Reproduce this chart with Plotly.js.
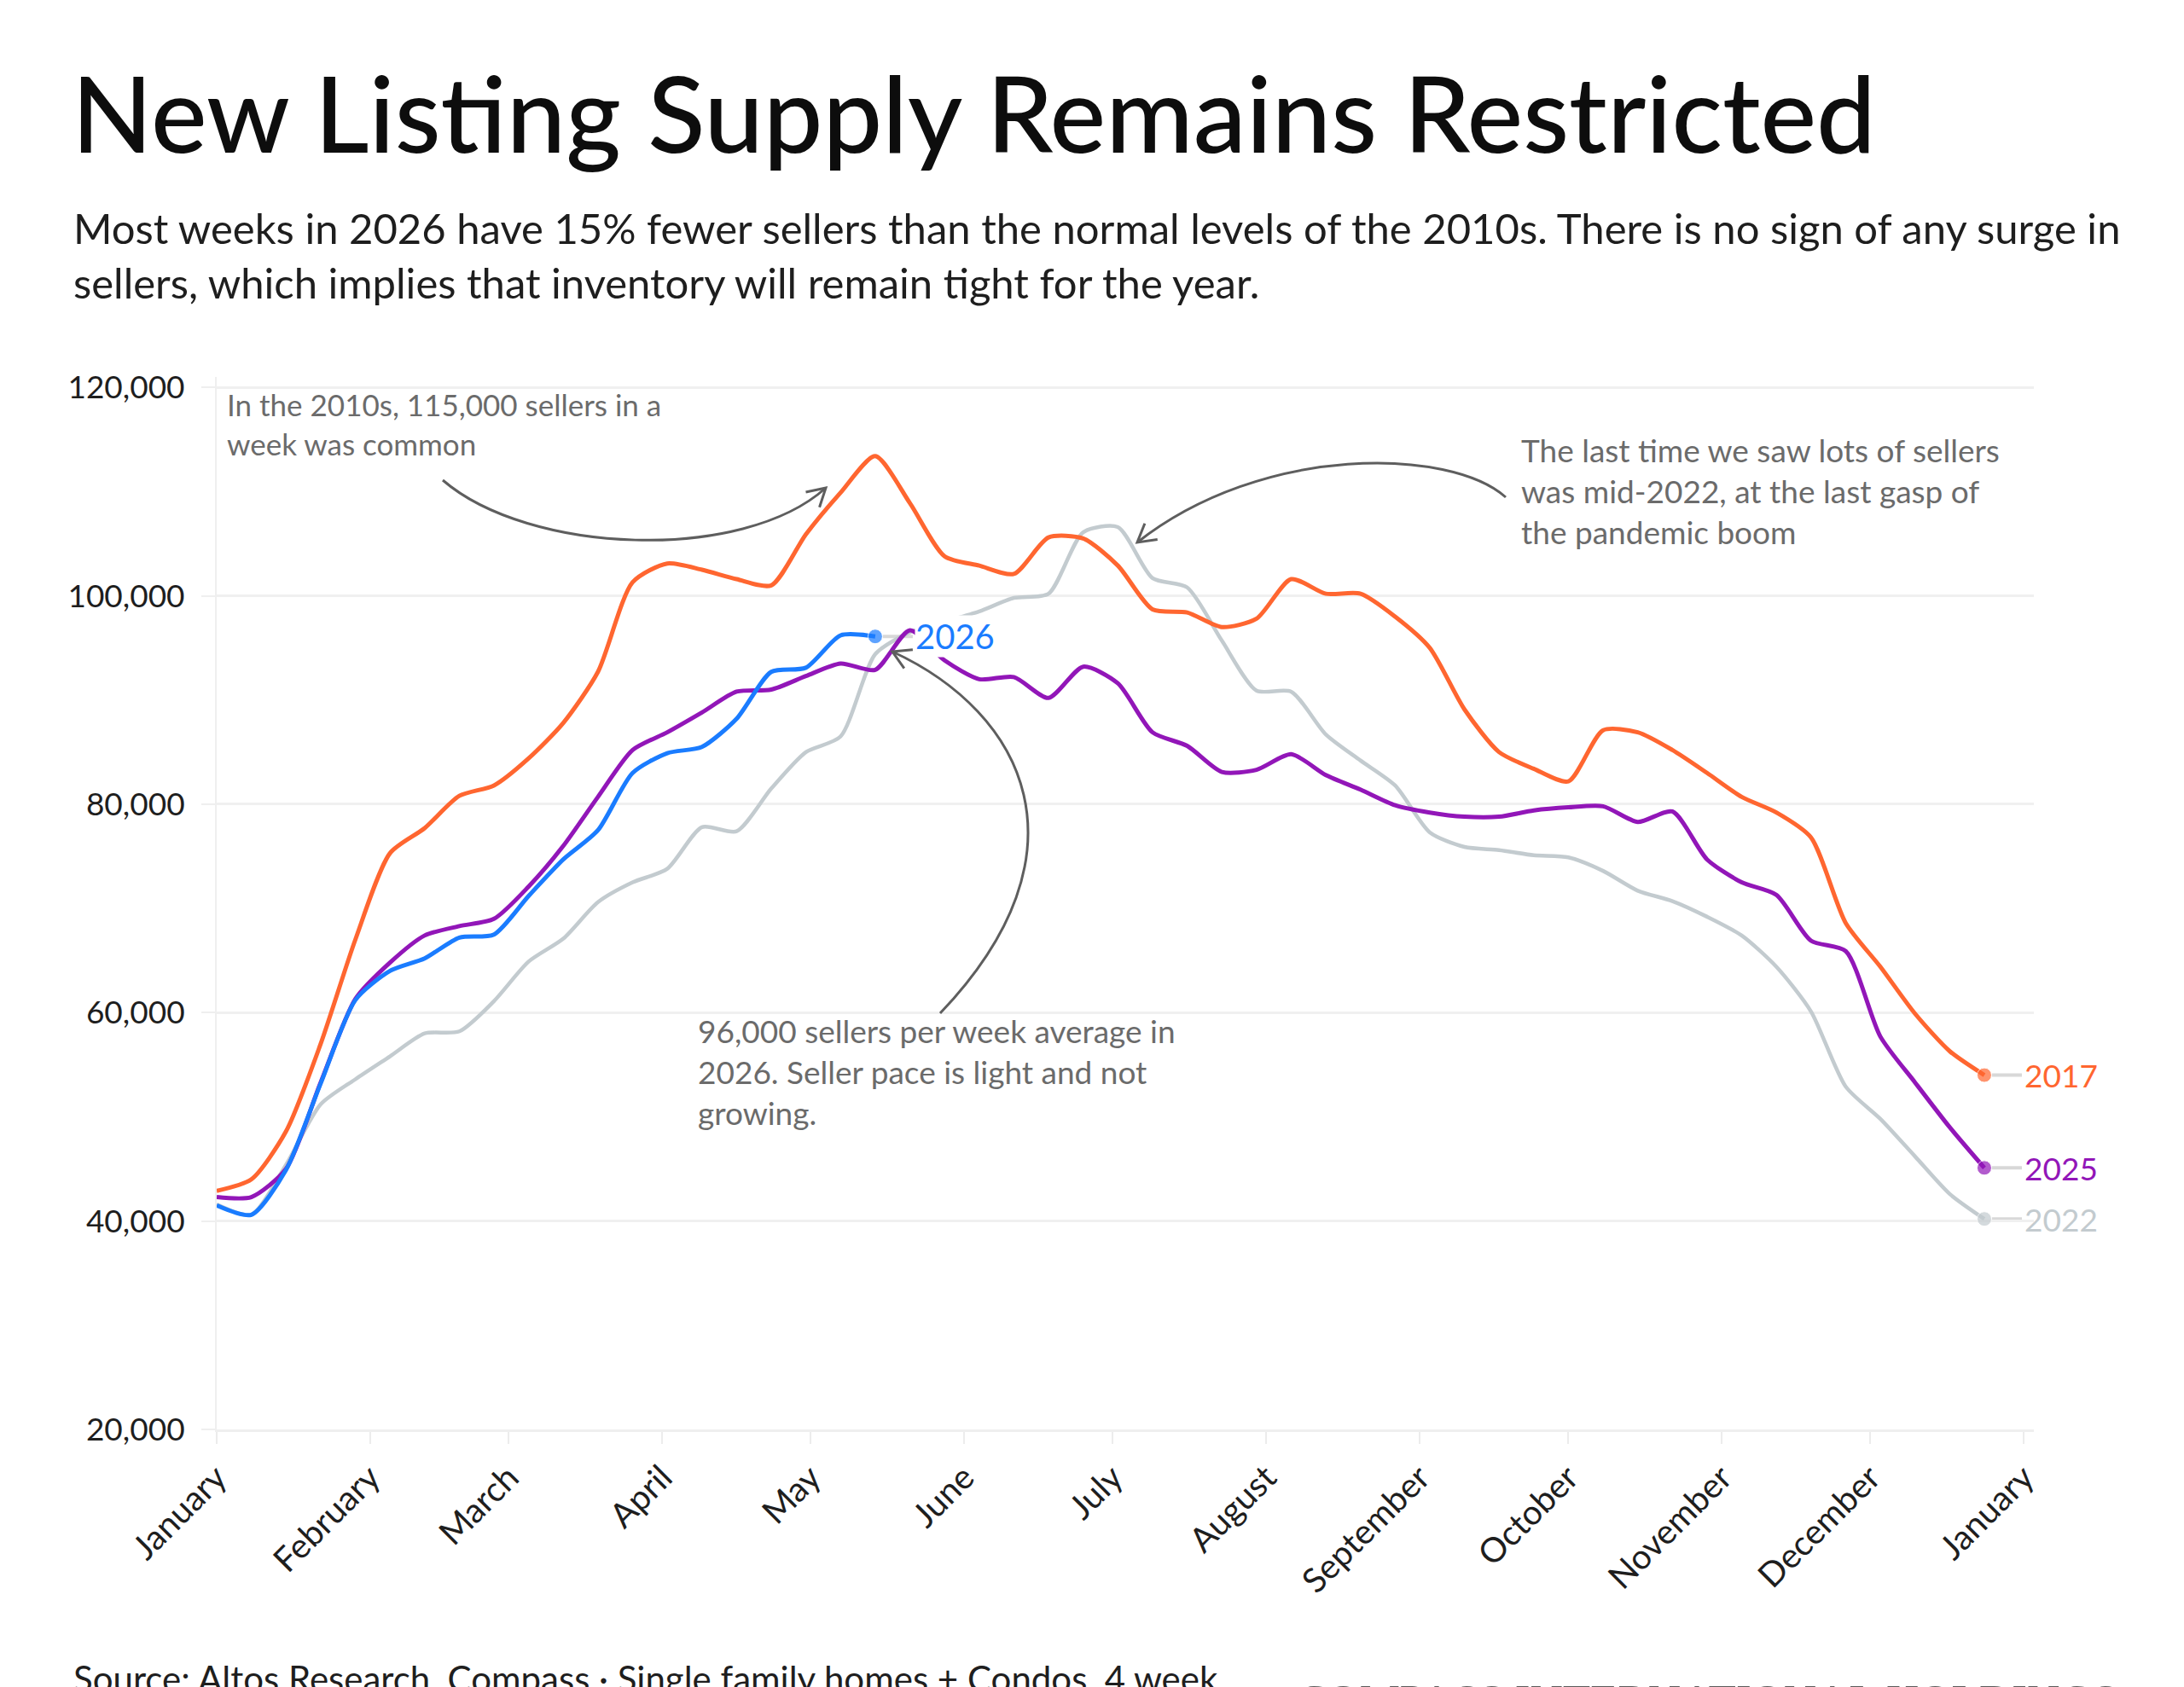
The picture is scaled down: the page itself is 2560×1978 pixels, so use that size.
<!DOCTYPE html>
<html>
<head>
<meta charset="utf-8">
<script src="https://cdn.plot.ly/plotly-3.0.1.min.js"></script>
<style>
html,body{margin:0;padding:0;background:#fff;}
#chart{width:2560px;height:1978px;}
</style>
</head>
<body>
<div id="chart"></div>
<script>
// ---------- DATA ----------
const weeks = [
  '2026-01-01','2026-01-08','2026-01-15','2026-01-22','2026-01-29','2026-02-05','2026-02-12','2026-02-19','2026-02-26',
  '2026-03-05','2026-03-12','2026-03-19','2026-03-26','2026-04-02','2026-04-09','2026-04-16','2026-04-23','2026-04-30',
  '2026-05-07','2026-05-14','2026-05-21','2026-05-28','2026-06-04','2026-06-11','2026-06-18','2026-06-25','2026-07-02',
  '2026-07-09','2026-07-16','2026-07-23','2026-07-30','2026-08-06','2026-08-13','2026-08-20','2026-08-27','2026-09-03',
  '2026-09-10','2026-09-17','2026-09-24','2026-10-01','2026-10-08','2026-10-15','2026-10-22','2026-10-29','2026-11-05',
  '2026-11-12','2026-11-19','2026-11-26','2026-12-03','2026-12-10','2026-12-17','2026-12-24'
];

const sellers2017 = [
  42900, 44000, 48600, 57000, 67000, 75300, 77700, 80800, 81800, 84400, 87800, 92700, 101300,
  103100, 102500, 101600, 101000, 105900, 109900, 113400, 108900, 103800, 102900, 102100, 105600, 105500,
  102900, 98700, 98400, 97000, 97800, 101600, 100200, 100200, 98000, 95000, 89100, 85000, 83400,
  82200, 87100, 86900, 85200, 83000, 80700, 79200, 76800, 68600, 64400, 59900, 56300, 54000
];

const sellers2022 = [
  41600, 40600, 45400, 51200, 53600, 55800, 58000, 58200, 61100, 64900, 67100, 70600, 72500,
  73800, 77800, 77400, 81500, 85000, 86500, 94400, 96500, 97500, 98500, 99800, 100200, 106100,
  106600, 101700, 100800, 95700, 90900, 90800, 86700, 84200, 81800, 77300, 75900, 75600, 75100,
  74900, 73600, 71700, 70700, 69200, 67400, 64400, 60100, 52900, 49800, 46200, 42600, 40200
];

const sellers2025 = [
  42300, 42300, 45000, 53300, 61300, 64800, 67400, 68300, 69000, 72100, 76000, 80700, 85200,
  86900, 88800, 90800, 91000, 92300, 93500, 92900, 96700, 93800, 92000, 92200, 90200, 93200,
  91600, 86900, 85600, 83100, 83300, 84800, 82800, 81400, 79900, 79200, 78800, 78800, 79400,
  79700, 79800, 78300, 79300, 74700, 72500, 71300, 66900, 65900, 57700, 53300, 49000, 45100
];

const sellers2026 = [
  41500, 40600, 44900, 53200, 61200, 64000, 65200, 67200, 67500, 71200, 74700, 77500, 83000,
  84900, 85500, 88200, 92700, 93100, 96200, 96100
];

const monthTicks = [
  '2026-01-01','2026-02-01','2026-03-01','2026-04-01','2026-05-01','2026-06-01','2026-07-01',
  '2026-08-01','2026-09-01','2026-10-01','2026-11-01','2026-12-01','2027-01-01'
];
const monthLabels = [
  'January','February','March','April','May','June','July',
  'August','September','October','November','December','January'
];

const yTicks = [20000, 40000, 60000, 80000, 100000, 120000];

const seriesNames = ['2022', '2017', '2025', '2026'];
const seriesColors = {'2017':'#ff6630', '2022':'#c3cbcf', '2025':'#9216b8', '2026':'#1a7cff'};
const seriesData = {'2017':sellers2017, '2022':sellers2022, '2025':sellers2025, '2026':sellers2026};

// ---------- LAYOUT HELPERS (pixel -> paper) ----------
const W = 2560, H = 1978;
const L = 254, R = 2384, T = 442, B = 1676;
const px = x => (x - L) / (R - L);
const py = y => (B - y) / (B - T);
const FONT = 'Lato, "Open Sans", sans-serif';

// ---------- TRACES ----------
const traces = seriesNames.map(name => {
  const ys = seriesData[name];
  const xs = weeks.slice(0, ys.length);
  const n = ys.length;
  return {
    type: 'scatter',
    mode: 'lines+markers',
    name: name,
    x: xs,
    y: ys,
    line: {color: seriesColors[name], width: name === '2022' ? 4.5 : 5, shape: 'spline', smoothing: 0.7},
    marker: {color: seriesColors[name], size: ys.map((v, i) => i === n - 1 ? 17 : 0)},
    hoverinfo: 'x+y',
    showlegend: false
  };
});

// ---------- SHAPES ----------
const shapes = [];
// connectors from end points to labels
seriesNames.forEach(name => {
  const ys = seriesData[name];
  const n = ys.length;
  shapes.push({
    type: 'line', xref: 'x', yref: 'y', xsizemode: 'pixel', xanchor: weeks[n - 1],
    x0: 9, x1: 44, y0: ys[n - 1], y1: ys[n - 1],
    line: {color: '#d8d8d8', width: 4}, layer: 'below'
  });
});

// curved annotation arrows (defined in pixels, converted to paper)
function curveArrow(p0, c1, c2, p1) {
  const path = 'M ' + px(p0[0]) + ',' + py(p0[1]) +
    ' C ' + px(c1[0]) + ',' + py(c1[1]) + ' ' + px(c2[0]) + ',' + py(c2[1]) + ' ' + px(p1[0]) + ',' + py(p1[1]);
  shapes.push({type: 'path', xref: 'paper', yref: 'paper', path: path, line: {color: '#5e5e5e', width: 3}});
  // arrow head
  let dx = p1[0] - c2[0], dy = p1[1] - c2[1];
  const len = Math.hypot(dx, dy); dx /= len; dy /= len;
  const hl = 24, ang = 30 * Math.PI / 180;
  const bx = -dx, by = -dy;
  const a = [p1[0] + hl * (bx * Math.cos(ang) - by * Math.sin(ang)), p1[1] + hl * (bx * Math.sin(ang) + by * Math.cos(ang))];
  const b = [p1[0] + hl * (bx * Math.cos(-ang) - by * Math.sin(-ang)), p1[1] + hl * (bx * Math.sin(-ang) + by * Math.cos(-ang))];
  const head = 'M ' + px(a[0]) + ',' + py(a[1]) + ' L ' + px(p1[0]) + ',' + py(p1[1]) + ' L ' + px(b[0]) + ',' + py(b[1]);
  shapes.push({type: 'path', xref: 'paper', yref: 'paper', path: head, line: {color: '#5e5e5e', width: 3}});
}
curveArrow([519, 563], [620, 650], [870, 660], [968, 572]);
curveArrow([1765, 583], [1700, 525], [1480, 520], [1333, 636]);
curveArrow([1102, 1188], [1282, 999], [1202, 836], [1046, 764]);

// ---------- ANNOTATIONS ----------
const annotations = [];
// series labels
seriesNames.forEach(name => {
  const ys = seriesData[name];
  const n = ys.length;
  annotations.push({
    x: weeks[n - 1], y: ys[n - 1], xref: 'x', yref: 'y',
    text: name, showarrow: false, xanchor: 'left', yanchor: 'middle', xshift: 46,
    font: {family: FONT, size: name === '2026' ? 40 : 37, color: seriesColors[name]},
    bgcolor: name === '2026' ? '#ffffff' : 'rgba(0,0,0,0)', borderpad: 0
  });
});

annotations.push({
  xref: 'paper', yref: 'paper', x: px(264), y: py(497), xanchor: 'left', yanchor: 'middle', align: 'left',
  showarrow: false, font: {family: FONT, size: 35, color: '#6b6b6b'},
  text: 'In the 2010s, 115,000 sellers in a<br>week was common'
});
annotations.push({
  xref: 'paper', yref: 'paper', x: px(1781), y: py(575), xanchor: 'left', yanchor: 'middle', align: 'left',
  showarrow: false, font: {family: FONT, size: 37, color: '#6b6b6b'},
  text: 'The last time we saw lots of sellers<br>was mid-2022, at the last gasp of<br>the pandemic boom'
});
annotations.push({
  xref: 'paper', yref: 'paper', x: px(816), y: py(1256), xanchor: 'left', yanchor: 'middle', align: 'left',
  showarrow: false, font: {family: FONT, size: 37, color: '#6b6b6b'},
  text: '96,000 sellers per week average in<br>2026. Seller pace is light and not<br>growing.'
});

// subtitle
annotations.push({
  xref: 'paper', yref: 'paper', x: px(84), y: py(299), xanchor: 'left', yanchor: 'middle', align: 'left',
  showarrow: false, font: {family: FONT, size: 49, color: '#1e1e1e'},
  text: 'Most weeks in 2026 have 15% fewer sellers than the normal levels of the 2010s. There is no sign of any surge in<br>sellers, which implies that inventory will remain tight for the year.'
});
// footer
annotations.push({
  xref: 'paper', yref: 'paper', x: px(84), y: py(1968), xanchor: 'left', yanchor: 'middle', align: 'left',
  showarrow: false, font: {family: FONT, size: 42, color: '#1e1e1e'},
  text: 'Source: Altos Research, Compass · Single family homes + Condos, 4 week'
});
annotations.push({
  xref: 'paper', yref: 'paper', x: px(1518), y: py(1994), xanchor: 'left', yanchor: 'middle', align: 'left',
  showarrow: false, font: {family: '"Liberation Serif", "DejaVu Serif", serif', size: 53, color: '#5a5a5a'},
  text: 'COMPASS INTERNATIONAL HOLDINGS'
});

const layout = {
  width: W, height: H,
  paper_bgcolor: '#ffffff', plot_bgcolor: '#ffffff',
  margin: {l: L, r: W - R, t: T, b: H - B, pad: 0},
  title: {
    text: 'New Listing Supply Remains Restricted',
    xref: 'container', yref: 'container', x: 84 / W, xanchor: 'left',
    y: 1 - 92 / H, yanchor: 'top',
    font: {family: FONT, size: 124, color: '#0d0d0d', weight: 500}
  },
  xaxis: {
    type: 'date',
    range: ['2026-01-01', '2027-01-03'],
    tickvals: monthTicks, ticktext: monthLabels,
    tickangle: -45,
    tickfont: {family: FONT, size: 40, color: '#1e1e1e'},
    ticks: 'outside', ticklen: 14, tickwidth: 2, tickcolor: '#ececec',
    showgrid: false, zeroline: false,
    showline: true, linecolor: '#efefef', linewidth: 3,
    fixedrange: true
  },
  yaxis: {
    range: [20000, 121000],
    tickvals: yTicks, tickformat: ',d',
    tickfont: {family: FONT, size: 37, color: '#1e1e1e'},
    ticks: 'outside', ticklen: 16, tickwidth: 2, tickcolor: '#efefef',
    ticklabelstandoff: 12,
    showgrid: true, gridcolor: '#f0f0f0', gridwidth: 3,
    zeroline: false,
    showline: true, linecolor: '#efefef', linewidth: 2,
    fixedrange: true
  },
  shapes: shapes,
  annotations: annotations,
  showlegend: false
};

Plotly.newPlot('chart', traces, layout, {displayModeBar: false, staticPlot: true});
</script>
</body>
</html>
